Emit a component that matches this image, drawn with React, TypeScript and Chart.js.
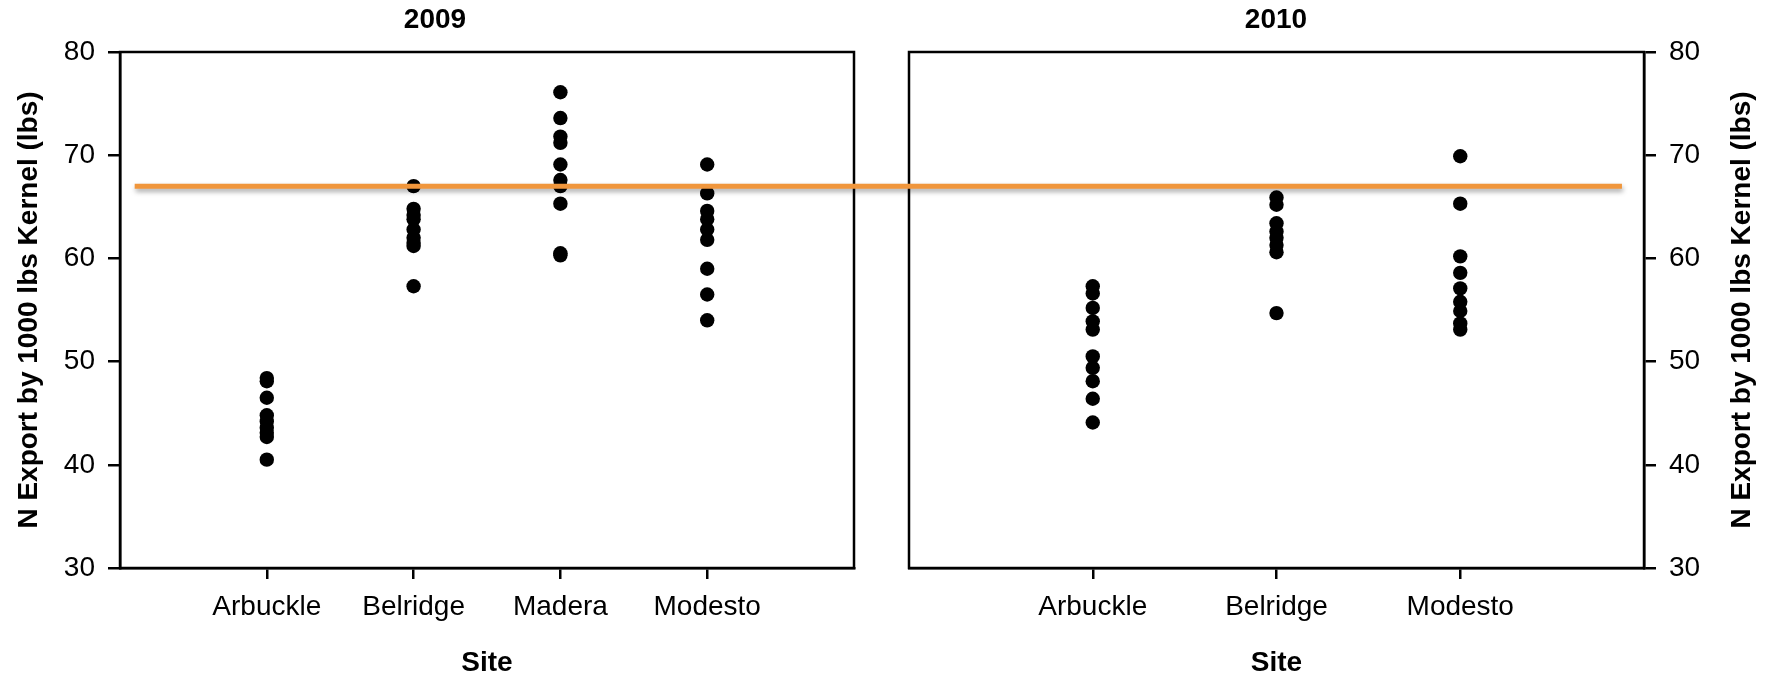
import React, { useEffect, useRef } from 'react';
import { Chart, registerables } from 'chart.js';

Chart.register(...registerables);

// ---- Data ----
const sites2009 = ['Arbuckle', 'Belridge', 'Madera', 'Modesto'];
const sites2010 = ['Arbuckle', 'Belridge', 'Modesto'];

const arbuckle2009 = [48.4, 48.1, 46.5, 44.8, 44.2, 43.6, 43.1, 42.7, 40.5];
const belridge2009 = [67.0, 64.8, 64.2, 63.8, 62.8, 62.0, 61.5, 61.2, 57.3];
const madera2009 = [76.1, 73.6, 71.8, 71.2, 69.1, 67.6, 67.0, 65.3, 60.5, 60.3];
const modesto2009 = [69.1, 66.3, 64.6, 63.8, 62.8, 61.8, 59.0, 56.5, 54.0];

const arbuckle2010 = [57.3, 56.6, 55.2, 53.9, 53.1, 50.5, 49.4, 48.1, 46.4, 44.1];
const belridge2010 = [65.9, 65.2, 63.4, 62.6, 62.0, 61.3, 60.6, 54.7];
const modesto2010 = [69.9, 65.3, 60.2, 58.6, 57.1, 55.8, 54.9, 53.7, 53.1];

const yTicks = [30, 40, 50, 60, 70, 80];
const yMin = 30;
const yMax = 80;
const targetValue = 67;
// horizontal extent of the reference line, in each panel's x-scale units
const targetStart2009 = 0.1;
const targetEnd2010 = 3.88;

const panelTitles = ['2009', '2010'];
const xTitle = 'Site';
const yTitle = 'N Export by 1000 lbs Kernel (lbs)';

const FONT = "'Liberation Sans', Arial, Helvetica, sans-serif";
const BLACK = '#000000';
const ORANGE = '#F0963C';

type PanelOpts = {
  title: string;
  titleX: number;
  titleY: number;
  yTitleX: number;
};

const framePlugin = {
  id: 'panelFrame',
  afterDraw(chart: any, _args: any, opts: PanelOpts) {
    const { ctx, chartArea: a } = chart;
    ctx.save();
    ctx.strokeStyle = BLACK;
    ctx.lineWidth = 2.5;
    ctx.strokeRect(a.left, a.top, a.right - a.left, a.bottom - a.top);
    ctx.fillStyle = BLACK;
    ctx.font = `bold 28px ${FONT}`;
    ctx.textAlign = 'center';
    ctx.textBaseline = 'middle';
    ctx.fillText(opts.title, opts.titleX, opts.titleY);
    ctx.translate(opts.yTitleX, (a.top + a.bottom) / 2);
    ctx.rotate(-Math.PI / 2);
    ctx.fillText(yTitle, 0, 0);
    ctx.restore();
  },
};

function makeConfig(
  sites: string[],
  series: number[][],
  yPos: 'left' | 'right',
  yWidth: number,
  padding: { top: number; left: number; right: number; bottom: number },
  panel: PanelOpts
): any {
  const datasets = series.map((vals, i) => ({
    label: sites[i],
    data: vals.map((v) => ({ x: i + 1, y: v })),
    pointRadius: 7.2,
    pointHoverRadius: 7.2,
    pointBackgroundColor: BLACK,
    pointBorderWidth: 0,
    borderColor: BLACK,
    showLine: false,
  }));
  return {
    type: 'scatter',
    data: { datasets },
    plugins: [framePlugin],
    options: {
      animation: false,
      responsive: false,
      devicePixelRatio: 1,
      events: [],
      layout: { padding },
      plugins: {
        legend: { display: false },
        tooltip: { enabled: false },
        title: { display: false },
        panelFrame: panel,
      },
      scales: {
        x: {
          type: 'linear',
          min: 0,
          max: sites.length + 1,
          afterBuildTicks: (s: any) => {
            s.ticks = sites.map((_, i) => ({ value: i + 1 }));
          },
          afterFit: (s: any) => {
            s.height = 106;
          },
          ticks: {
            autoSkip: false,
            maxRotation: 0,
            minRotation: 0,
            padding: 11,
            color: BLACK,
            font: { family: FONT, size: 28 },
            callback: (v: number) => sites[Math.round(v) - 1] ?? '',
          },
          grid: {
            drawOnChartArea: false,
            drawTicks: true,
            tickLength: 11,
            color: BLACK,
            lineWidth: 2.5,
          },
          border: { display: true, color: BLACK, width: 2.5 },
          title: {
            display: true,
            text: xTitle,
            color: BLACK,
            font: { family: FONT, size: 28, weight: 'bold', lineHeight: 1 },
            padding: { top: 0, bottom: -3 },
          },
        },
        y: {
          type: 'linear',
          position: yPos,
          min: yMin,
          max: yMax,
          afterBuildTicks: (s: any) => {
            s.ticks = yTicks.map((v) => ({ value: v }));
          },
          afterFit: (s: any) => {
            s.width = yWidth;
          },
          ticks: {
            padding: 13,
            color: BLACK,
            font: { family: FONT, size: 28 },
          },
          grid: {
            drawOnChartArea: false,
            drawTicks: true,
            tickLength: 12,
            color: BLACK,
            lineWidth: 2.5,
          },
          border: { display: true, color: BLACK, width: 2.5 },
        },
      },
    },
  };
}

export default function App() {
  const c1 = useRef<HTMLCanvasElement>(null);
  const c2 = useRef<HTMLCanvasElement>(null);
  const ov = useRef<HTMLCanvasElement>(null);

  useEffect(() => {
    document.body.style.margin = '0';
    document.body.style.overflow = 'hidden';
    const ch1 = new Chart(
      c1.current as HTMLCanvasElement,
      makeConfig(
        sites2009,
        [arbuckle2009, belridge2009, madera2009, modesto2009],
        'left',
        120,
        { top: 52, left: 0, right: 26, bottom: 0 },
        { title: panelTitles[0], titleX: 435, titleY: 20, yTitleX: 29 }
      )
    );
    const ch2 = new Chart(
      c2.current as HTMLCanvasElement,
      makeConfig(
        sites2010,
        [arbuckle2010, belridge2010, modesto2010],
        'right',
        122,
        { top: 52, left: 29, right: 0, bottom: 0 },
        { title: panelTitles[1], titleX: 396, titleY: 20, yTitleX: 862 }
      )
    );

    // reference line across both panels
    const o = ov.current as HTMLCanvasElement;
    const ctx = o.getContext('2d') as CanvasRenderingContext2D;
    ctx.clearRect(0, 0, o.width, o.height);
    const y = ch1.scales.y.getPixelForValue(targetValue);
    const x0 = ch1.scales.x.getPixelForValue(targetStart2009);
    const x1 = 880 + ch2.scales.x.getPixelForValue(targetEnd2010);
    ctx.save();
    ctx.shadowColor = 'rgba(0,0,0,0.35)';
    ctx.shadowBlur = 5;
    ctx.shadowOffsetX = 1;
    ctx.shadowOffsetY = 3;
    ctx.strokeStyle = ORANGE;
    ctx.lineWidth = 5;
    ctx.beginPath();
    ctx.moveTo(x0, y);
    ctx.lineTo(x1, y);
    ctx.stroke();
    ctx.restore();

    return () => {
      ch1.destroy();
      ch2.destroy();
      ctx.clearRect(0, 0, o.width, o.height);
    };
  }, []);

  return (
    <div
      style={{
        position: 'absolute',
        left: 0,
        top: 0,
        width: 1766,
        height: 674,
        background: '#ffffff',
        overflow: 'hidden',
      }}
    >
      <canvas
        ref={c1}
        width={880}
        height={674}
        style={{ position: 'absolute', left: 0, top: 0, display: 'block' }}
      />
      <canvas
        ref={c2}
        width={886}
        height={674}
        style={{ position: 'absolute', left: 880, top: 0, display: 'block' }}
      />
      <canvas
        ref={ov}
        width={1766}
        height={674}
        style={{ position: 'absolute', left: 0, top: 0, display: 'block', pointerEvents: 'none' }}
      />
    </div>
  );
}
